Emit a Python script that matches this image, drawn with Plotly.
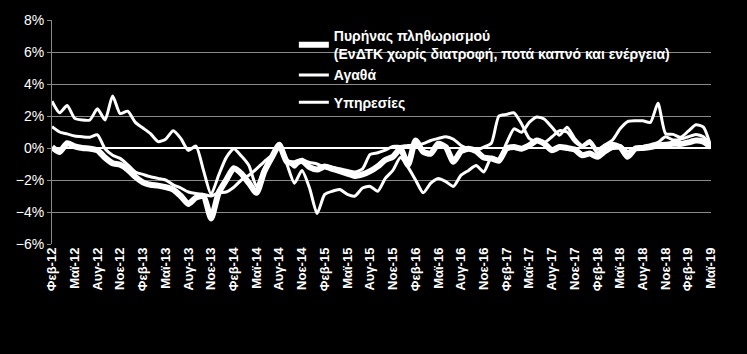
import plotly.graph_objects as go

months = ["Φεβ", "Μαρ", "Απρ", "Μαϊ", "Ιουν", "Ιουλ", "Αυγ", "Σεπ", "Οκτ", "Νοε", "Δεκ", "Ιαν"]
# monthly observations Feb-12 .. May-19
dates = []
y, m = 12, 0
for k in range(88):
    dates.append(f"{months[m]}-{y}")
    m += 1
    if m == 11:
        y += 1
    if m == 12:
        m = 0

core = [0.06, -0.25, 0.3, 0.1, 0.0, -0.04, -0.14, -0.6, -0.95, -1.05, -1.35, -1.8,
        -2.15, -2.3, -2.35, -2.45, -2.6, -3.0, -3.5, -3.1, -3.0, -4.4, -2.8, -2.0,
        -1.27, -1.6, -2.2, -2.8, -1.5, -0.6, 0.2, -0.86, -0.95, -0.8, -1.2, -1.35,
        -1.15, -1.3, -1.45, -1.6, -1.75, -1.65, -1.45, -1.15, -0.75, -0.55, -0.05, -1.05,
        0.47, -0.24, -0.35, 0.27, 0.05, -0.86, -0.2, -0.04, -0.2, -0.6, -0.65, -0.8,
        -0.04, 0.06, -0.04, 0.16, 0.47, 0.27, -0.14, 0.06, 0.0, -0.1, -0.45, -0.35,
        -0.55, -0.2, 0.06, 0.06, -0.55, -0.04, 0.0, 0.06, 0.16, 0.2, 0.27, 0.25,
        0.35, 0.47, 0.4, 0.06]

goods = [2.92, 2.2, 2.65, 1.85, 1.75, 1.75, 2.45, 1.75, 3.25, 2.15, 2.3, 1.6,
         1.25, 0.9, 0.4, 0.55, 1.08, 0.6, -0.15, 0.12, -1.4, -2.9, -1.7, -0.6,
         -0.05, -0.5, -1.1, -2.4, -1.3, -0.5, 0.1, -1.0, -2.2, -1.4, -2.5, -4.1,
         -2.9, -2.7, -2.6, -2.9, -3.0, -2.5, -2.4, -2.7, -1.9, -1.4, -0.6, -1.2,
         -2.0, -2.8, -2.2, -1.9, -2.1, -2.4, -1.7, -1.4, -1.1, -1.5, -0.6, -0.7,
         0.3, 1.2, 0.98, 1.6, 1.94, 1.8, 1.3, 0.8, 1.3, 0.6, 0.16, 0.47,
         -0.1, 0.2, 0.5, 1.2, 1.65, 1.7, 1.7, 1.6, 2.8, 0.9, 0.85, 0.67,
         1.05, 1.45, 1.3, 0.06]

services = [1.33, 1.0, 0.88, 0.75, 0.7, 0.67, 0.82, -0.05, -0.45, -0.65, -1.05, -1.5,
            -1.65, -1.8, -1.9, -2.0, -2.3, -2.5, -2.75, -2.85, -2.9, -3.0, -2.8, -2.75,
            -2.45, -2.0, -1.7, -1.3, -0.86, -0.45, 0.2, -0.7, -1.2, -0.75, -0.9, -1.0,
            -1.2, -1.2, -1.3, -1.4, -1.5, -1.3, -0.4, -0.3, -0.14, 0.1, 0.1, 0.16,
            0.2, 0.27, 0.47, 0.6, 0.71, 0.55, 0.16, -0.04, -0.14, 0.06, 0.3, 2.0,
            2.1, 2.2, 1.5, 0.6, 0.4, 0.35, 0.7, 1.08, 1.0, 0.4, 0.1, 0.3,
            -0.3, 0.1, 0.3, 0.15, -0.2, 0.0, 0.1, 0.2, 0.35, 0.7, 0.5, 0.55,
            0.7, 0.85, 0.7, 0.06]

names = ["Πυρήνας πληθωρισμού<br>(ΕνΔΤΚ χωρίς διατροφή, ποτά καπνό και ενέργεια)",
         "Αγαθά", "Υπηρεσίες"]

x = list(range(len(dates)))
tickvals = x[::3]
ticktext = dates[::3]

fig = go.Figure()
fig.add_trace(go.Scatter(x=x, y=core, name=names[0], mode="lines", legendgroup="a",
                         line=dict(color="white", width=6, shape="spline", smoothing=0.6)))
fig.add_trace(go.Scatter(x=x, y=goods, name=names[1], mode="lines", legendgroup="a",
                         line=dict(color="white", width=3, shape="spline", smoothing=0.6)))
fig.add_trace(go.Scatter(x=x, y=services, name=names[2], mode="lines", legendgroup="b",
                         line=dict(color="white", width=3, shape="spline", smoothing=0.6)))

fig.update_layout(
    width=747, height=354,
    margin=dict(l=52, r=36, t=16, b=110),
    paper_bgcolor="black", plot_bgcolor="black",
    font=dict(family="Liberation Sans, Arial", color="white", size=13),
    legend=dict(x=0.367, y=1.0, xanchor="left", yanchor="top", bgcolor="rgba(0,0,0,0)",
                font=dict(size=14, color="white", weight="bold"), tracegroupgap=6,
                itemwidth=30),
    showlegend=True,
)
fig.update_xaxes(range=[0, 87], tickvals=tickvals, ticktext=ticktext, tickangle=-90,
                 showgrid=False, zeroline=False, showline=False,
                 tickfont=dict(size=13, color="white", family="Liberation Sans, Arial",
                               weight="bold"))
fig.update_yaxes(range=[-6, 8], dtick=2, ticksuffix="%", showgrid=True,
                 gridcolor="#8a8a8a", gridwidth=1, zeroline=True, zerolinecolor="white",
                 zerolinewidth=2, showline=True, linecolor="#8a8a8a", linewidth=1,
                 ticks="outside", ticklen=4, tickcolor="#8a8a8a",
                 tickfont=dict(size=14, color="white"))

fig.write_html("out.html")
